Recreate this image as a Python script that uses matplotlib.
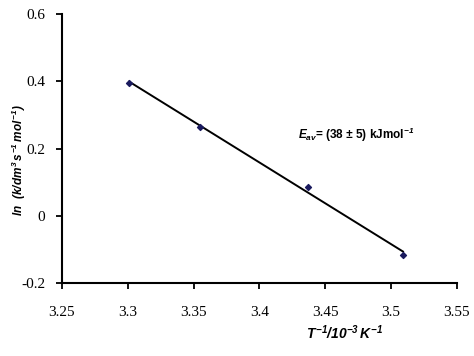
import matplotlib
matplotlib.use("Agg")
import matplotlib.pyplot as plt
import numpy as np

# inverse temperature (10^-3 K^-1) and ln k
inv_T = [3.301, 3.355, 3.437, 3.509]
ln_k = [0.394, 0.265, 0.087, -0.117]

x_ticks = [3.25, 3.3, 3.35, 3.4, 3.45, 3.5, 3.55]
x_ticklabels = ["3.25", "3.3", "3.35", "3.4", "3.45", "3.5", "3.55"]
y_ticks = [-0.2, 0, 0.2, 0.4, 0.6]
y_ticklabels = ["-0.2", "0", "0.2", "0.4", "0.6"]

plt.rcParams["mathtext.fontset"] = "custom"
plt.rcParams["mathtext.rm"] = "Liberation Sans:bold:italic"
plt.rcParams["mathtext.it"] = "Liberation Sans:bold:italic"
plt.rcParams["mathtext.bf"] = "Liberation Sans:bold:italic"

fig = plt.figure(figsize=(4.74, 3.56), dpi=100)
ax = fig.add_axes([0.1308, 0.2042, 0.8333, 0.7573])

# least squares line through the points
slope, intercept = np.polyfit(inv_T, ln_k, 1)
xs = np.array([inv_T[0], inv_T[-1]])
ax.plot(xs, slope * xs + intercept, color="black", lw=1.4, zorder=2)
ax.scatter(inv_T, ln_k, marker="D", s=9, color="#1a1a5e", zorder=3)

ax.set_xlim(3.25, 3.55)
ax.set_ylim(-0.2, 0.6)
ax.set_xticks(x_ticks)
ax.set_xticklabels(x_ticklabels)
ax.set_yticks(y_ticks)
ax.set_yticklabels(y_ticklabels)
for lab in ax.get_xticklabels() + ax.get_yticklabels():
    lab.set_family("Liberation Serif")
    lab.set_fontsize(11)

ax.spines["top"].set_visible(False)
ax.spines["right"].set_visible(False)
ax.spines["left"].set_linewidth(1.5)
ax.spines["bottom"].set_linewidth(1.5)
ax.tick_params(direction="out", length=4, width=1.3, colors="black")
ax.tick_params(axis="x", pad=12)
ax.tick_params(axis="y", pad=8)

fig.text(0.039, 0.55, r"$ln\ \ (k/dm^{3}\,s^{-1}\,mol^{-1})$", rotation=90,
         ha="center", va="center", fontsize=8.5)
fig.text(0.728, 0.065, r"$T^{-1}/10^{-3}\,K^{-1}$", ha="center", va="center",
         fontsize=10)
ax.text(3.429, 0.24, r"$E_{av}$= (38 $\pm$ 5) kJmol$^{-1}$", ha="left", va="center",
        fontsize=8.5, family="Liberation Sans", fontweight="bold")

fig.savefig("out.png", dpi=100)
